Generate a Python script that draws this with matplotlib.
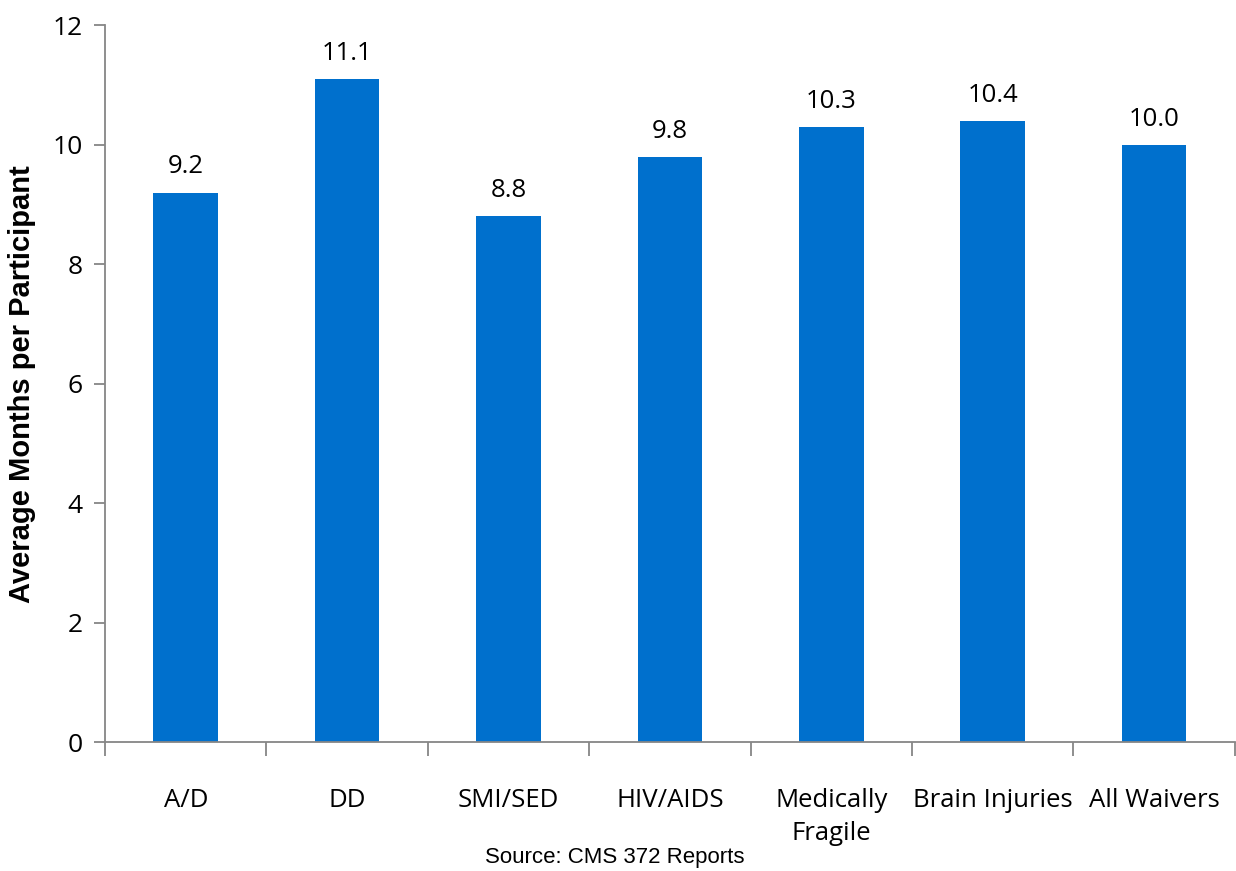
import matplotlib.pyplot as plt
import numpy as np

# Data
categories = ['A/D', 'DD', 'SMI/SED', 'HIV/AIDS', 'Medically\nFragile', 'Brain Injuries', 'All Waivers']
months = [9.2, 11.1, 8.8, 9.8, 10.3, 10.4, 10.0]
labels = ['9.2', '11.1', '8.8', '9.8', '10.3', '10.4', '10.0']

bar_color = '#0070CD'
axis_color = '#868686'

fig = plt.figure(figsize=(12.36, 8.71), dpi=100)
ax = fig.add_axes([0.085, 0.148, 0.914, 0.823])

x = np.arange(len(categories))
ax.bar(x, months, width=0.4, color=bar_color)
for xi, v, lab in zip(x, months, labels):
    ax.text(xi, v + 0.22, lab, ha='center', va='bottom', fontsize=18.5, family='Open Sans')

ax.set_xlim(-0.5, len(categories) - 0.5)
ax.set_ylim(0, 12)
ax.set_yticks(np.arange(0, 13, 2))
ax.set_yticklabels([str(t) for t in range(0, 13, 2)], family='Open Sans', fontsize=19)

# category labels between boundary ticks
ax.set_xticks(np.arange(-0.5, len(categories), 1))
ax.set_xticklabels([])
ax.set_xticks(x, minor=True)
ax.set_xticklabels(categories, minor=True, family='Open Sans', fontsize=18.5, linespacing=1.45)
ax.tick_params(axis='x', which='minor', length=0, pad=33)
ax.tick_params(axis='x', which='major', length=10, color=axis_color, width=1.3)
ax.tick_params(axis='y', length=8, color=axis_color, width=1.3, pad=8)
for lab in ax.get_xticklabels(minor=True):
    lab.set_verticalalignment('top')

for s in ['top', 'right']:
    ax.spines[s].set_visible(False)
for s in ['left', 'bottom']:
    ax.spines[s].set_color(axis_color)
    ax.spines[s].set_linewidth(1.3)

ax.set_ylabel('Average Months per Participant', fontsize=21, fontweight='bold',
              family='Liberation Sans', labelpad=12)

fig.text(0.497, 0.003, 'Source: CMS 372 Reports', ha='center', va='bottom',
         fontsize=16, family='Liberation Sans')

fig.savefig('out.png', dpi=100)
